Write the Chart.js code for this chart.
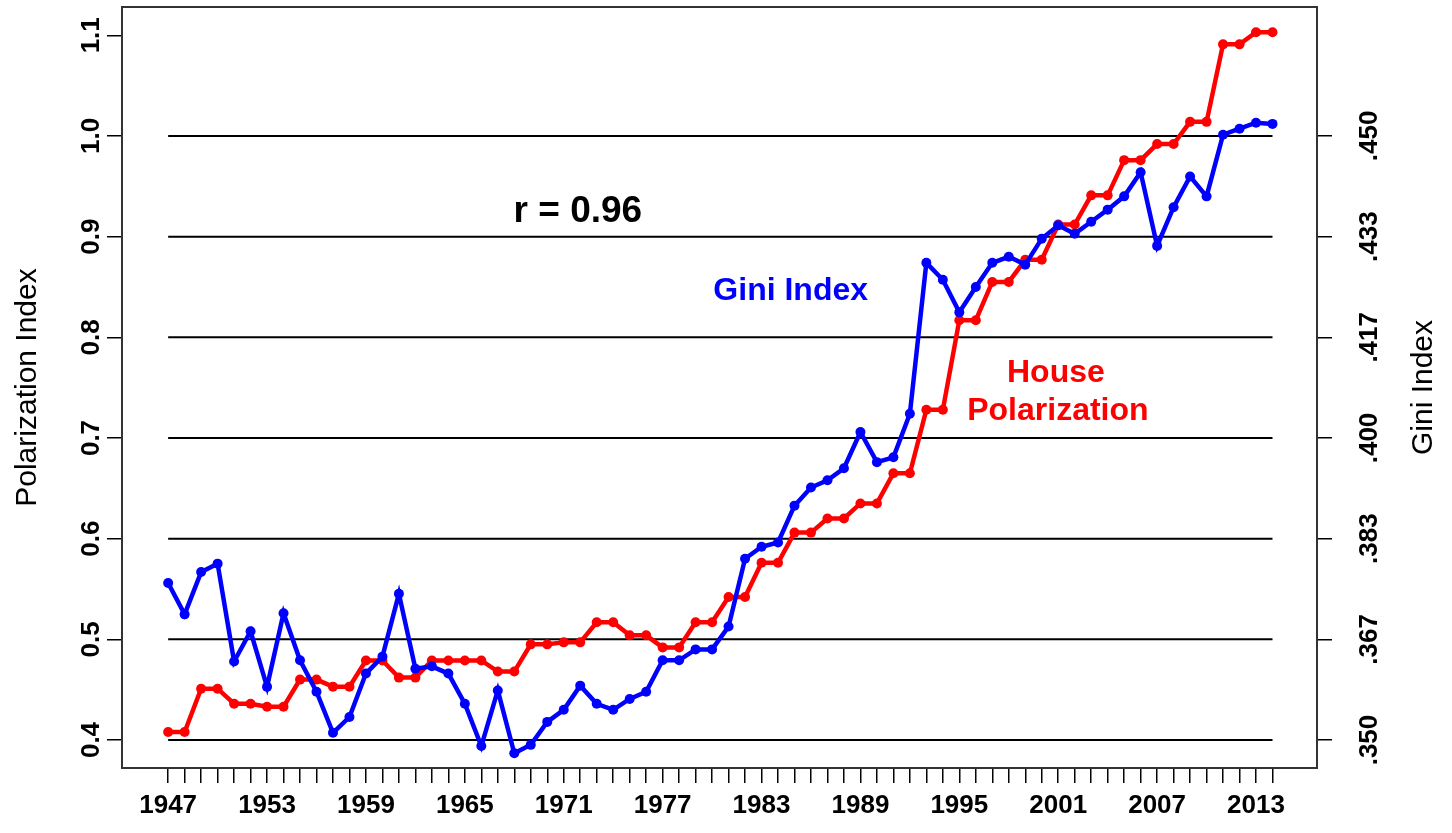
<!DOCTYPE html>
<html><head><meta charset="utf-8">
<script src="https://cdn.jsdelivr.net/npm/chart.js@4"></script>
<style>html,body{margin:0;padding:0;background:#fff;}canvas{display:block;}</style>
</head><body>
<canvas id="c" width="1452" height="833"></canvas>
<script>
const years = [1947,1948,1949,1950,1951,1952,1953,1954,1955,1956,1957,1958,1959,1960,1961,1962,1963,1964,1965,1966,1967,1968,1969,1970,1971,1972,1973,1974,1975,1976,1977,1978,1979,1980,1981,1982,1983,1984,1985,1986,1987,1988,1989,1990,1991,1992,1993,1994,1995,1996,1997,1998,1999,2000,2001,2002,2003,2004,2005,2006,2007,2008,2009,2010,2011,2012,2013,2014];

const housePolarization = [0.408,0.408,0.451,0.451,0.436,0.436,0.433,0.433,0.460,0.460,0.453,0.453,0.479,0.479,0.462,0.462,0.479,0.479,0.479,0.479,0.468,0.468,0.495,0.495,0.497,0.497,0.517,0.517,0.504,0.504,0.492,0.492,0.517,0.517,0.542,0.542,0.576,0.576,0.606,0.606,0.620,0.620,0.635,0.635,0.665,0.665,0.728,0.728,0.817,0.817,0.855,0.855,0.877,0.877,0.912,0.912,0.941,0.941,0.976,0.976,0.992,0.992,1.014,1.014,1.091,1.091,1.103,1.103];

const giniIndex = [0.3760,0.3708,0.3778,0.3792,0.3630,0.3680,0.3588,0.3710,0.3632,0.3580,0.3512,0.3538,0.3610,0.3638,0.3742,0.3618,0.3622,0.3610,0.3560,0.3490,0.3582,0.3478,0.3492,0.3530,0.3550,0.3590,0.3560,0.3550,0.3568,0.3580,0.3632,0.3632,0.3650,0.3650,0.3688,0.3800,0.3820,0.3827,0.3888,0.3918,0.3930,0.3950,0.4010,0.3960,0.3968,0.4040,0.4290,0.4262,0.4208,0.4250,0.4290,0.4300,0.4287,0.4330,0.4352,0.4338,0.4358,0.4378,0.4400,0.4440,0.4318,0.4382,0.4433,0.4400,0.4502,0.4512,0.4522,0.4520];

const xTickLabels = ['1947','1953','1959','1965','1971','1977','1983','1989','1995','2001','2007','2013'];
const leftTickValues = [0.4,0.5,0.6,0.7,0.8,0.9,1.0,1.1];
const leftTickLabels = ['0.4','0.5','0.6','0.7','0.8','0.9','1.0','1.1'];
const rightTickValues = [0.35,0.366667,0.383333,0.4,0.416667,0.433333,0.45];
const rightTickLabels = ['.350','.367','.383','.400','.417','.433','.450'];
const gridValues = [0.4,0.5,0.6,0.7,0.8,0.9,1.0];

const FONT = "'Liberation Sans', Arial, Helvetica, sans-serif";
const Y_MIN = 0.3722, Y_MAX = 1.1281;
// Gini axis: .350 <-> 0.4, .450 <-> 1.0
const toGini = p => 0.35 + (p - 0.4) / 6;

const deco = {
  id: 'deco',
  beforeDatasetsDraw(chart) {
    const {ctx, chartArea: a, scales: {x, y}} = chart;
    ctx.save();
    ctx.strokeStyle = '#000';
    ctx.lineWidth = 2;
    const x0 = x.getPixelForValue(years[0]);
    const x1 = x.getPixelForValue(years[years.length - 1]);
    gridValues.forEach(v => {
      const py = y.getPixelForValue(v);
      ctx.beginPath(); ctx.moveTo(x0, py); ctx.lineTo(x1, py); ctx.stroke();
    });
    ctx.strokeStyle = '#333';
    ctx.strokeRect(a.left, a.top, a.right - a.left, a.bottom - a.top);
    ctx.restore();
  },
  afterDraw(chart) {
    const {ctx, chartArea: a, scales: {x, y, y2}} = chart;
    ctx.save();
    ctx.fillStyle = '#000';
    ctx.textAlign = 'center';
    ctx.textBaseline = 'middle';
    const rot = (txt, px, py, font) => {
      ctx.save(); ctx.font = font; ctx.translate(px, py); ctx.rotate(-Math.PI / 2);
      ctx.fillText(txt, 0, 0); ctx.restore();
    };
    leftTickValues.forEach((v, i) => rot(leftTickLabels[i], 92, y.getPixelForValue(v), 'bold 26px ' + FONT));
    rightTickValues.forEach((v, i) => rot(rightTickLabels[i], 1370, y2.getPixelForValue(v), 'bold 26px ' + FONT));
    const cy = (a.top + a.bottom) / 2;
    rot('Polarization Index', 28, cy, '30px ' + FONT);
    rot('Gini Index', 1424, cy, '30px ' + FONT);

    ctx.textBaseline = 'alphabetic';
    ctx.font = 'bold 37px ' + FONT;
    ctx.fillStyle = '#000';
    ctx.fillText('r = 0.96', x.getPixelForValue(1971.86), y.getPixelForValue(0.9146));
    ctx.font = 'bold 32px ' + FONT;
    ctx.fillStyle = '#0000FF';
    ctx.fillText('Gini Index', x.getPixelForValue(1984.77), y.getPixelForValue(0.837));
    ctx.fillStyle = '#FF0000';
    ctx.fillText('House', x.getPixelForValue(2000.86), y.getPixelForValue(0.7556));
    ctx.fillText('Polarization', x.getPixelForValue(2000.98), y.getPixelForValue(0.7179));
    ctx.restore();
  }
};

new Chart(document.getElementById('c'), {
  type: 'line',
  data: {
    datasets: [
      {
        label: 'Gini Index',
        data: years.map((yr, i) => ({x: yr, y: giniIndex[i]})),
        yAxisID: 'y2',
        borderColor: '#0000FF', backgroundColor: '#0000FF',
        pointBackgroundColor: '#0000FF', pointBorderColor: '#0000FF',
        borderWidth: 4.5, pointRadius: 5, pointBorderWidth: 0, tension: 0, order: 0
      },
      {
        label: 'House Polarization',
        data: years.map((yr, i) => ({x: yr, y: housePolarization[i]})),
        yAxisID: 'y',
        borderColor: '#FF0000', backgroundColor: '#FF0000',
        pointBackgroundColor: '#FF0000', pointBorderColor: '#FF0000',
        borderWidth: 4.5, pointRadius: 5, pointBorderWidth: 0, tension: 0, order: 1
      }
    ]
  },
  options: {
    responsive: false, animation: false, devicePixelRatio: 1,
    layout: {padding: {top: 7, left: 0, right: 0, bottom: 0}},
    plugins: {legend: {display: false}, tooltip: {enabled: false}},
    scales: {
      x: {
        type: 'linear', min: 1944.2, max: 2016.7,
        afterBuildTicks: s => { s.ticks = years.map(v => ({value: v})); },
        afterFit: s => { s.height = 65; },
        ticks: {
          autoSkip: false, maxRotation: 0, minRotation: 0, padding: 7,
          color: '#000', font: {family: FONT, size: 26, weight: 'bold'},
          callback: v => xTickLabels.includes(String(v)) ? String(v) : ''
        },
        grid: {drawOnChartArea: false, drawTicks: true, tickLength: 15, color: '#000', lineWidth: 1.5},
        border: {display: false}
      },
      y: {
        type: 'linear', position: 'left', min: Y_MIN, max: Y_MAX,
        afterBuildTicks: s => { s.ticks = leftTickValues.map(v => ({value: v})); },
        afterFit: s => { s.width = 122; },
        ticks: {display: false},
        grid: {drawOnChartArea: false, drawTicks: true, tickLength: 15, color: '#000', lineWidth: 1.5},
        border: {display: false}
      },
      y2: {
        type: 'linear', position: 'right', min: toGini(Y_MIN), max: toGini(Y_MAX),
        afterBuildTicks: s => { s.ticks = rightTickValues.map(v => ({value: v})); },
        afterFit: s => { s.width = 135; },
        ticks: {display: false},
        grid: {drawOnChartArea: false, drawTicks: true, tickLength: 15, color: '#000', lineWidth: 1.5},
        border: {display: false}
      }
    }
  },
  plugins: [deco]
});
</script>
</body></html>
